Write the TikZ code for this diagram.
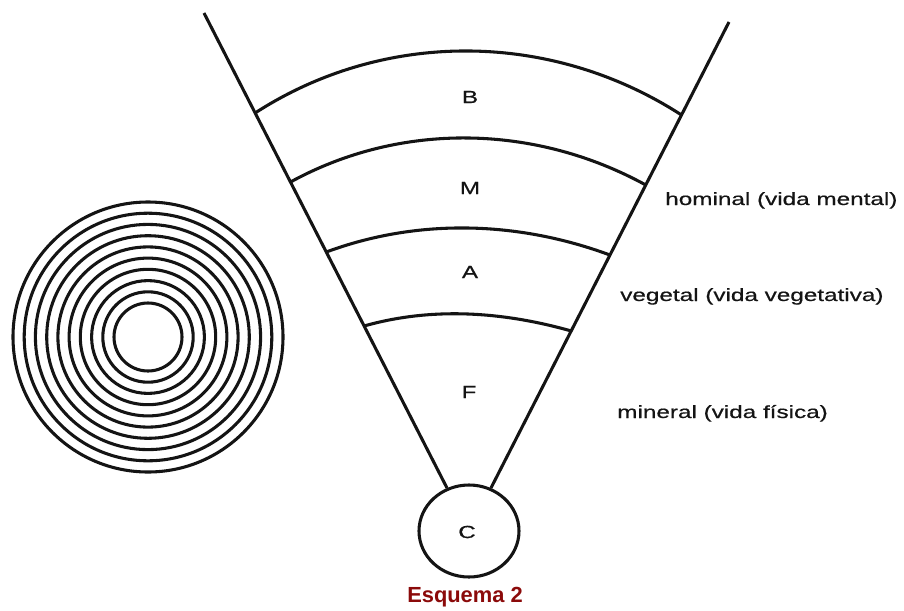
\documentclass[tikz,border=0pt]{standalone}
\usepackage{fontspec}
\setmainfont{Liberation Sans}
\newfontfamily\widefont[FakeStretch=1.38,FakeBold=0.6]{Liberation Sans}
\usetikzlibrary{calc,shapes.geometric}
\definecolor{capred}{RGB}{139,10,10}
\definecolor{ink}{RGB}{20,20,20}
\tikzset{
  stroke/.style={draw=ink, line width=2.3pt},
  letter/.style={font=\widefont\fontsize{13.2}{15}\selectfont, text=ink, inner sep=0pt},
  sidelabel/.style={font=\widefont\fontsize{13.2}{15}\selectfont, text=ink, inner sep=0pt, anchor=base west},
  caption/.style={font=\bfseries\fontsize{16.4}{18}\selectfont, text=capred, inner sep=0pt}
}
\begin{document}
\begin{tikzpicture}[x=0.75pt,y=-0.75pt]
\useasboundingbox (0,0) rectangle (904,611);
% concentric rings
\foreach \r in {34,45.2,56.4,67.7,78.9,90.1,101.3,112.6,123.8,135}
  \draw[stroke] (148,337) circle[radius=\r];
% cone
\coordinate (cc) at (469,531);
\node[stroke, ellipse, minimum width=75pt, minimum height=69pt, inner sep=0pt] (C) at (cc) {};
\node[letter] (Ct) at (467,532) {C};
\coordinate (tl) at (204,13);
\coordinate (tr) at (729,22);
\draw[stroke] (tl) -- (C);
\draw[stroke] (tr) -- (C);
\coordinate (bl) at ($(tl)!0.193!(cc)$);
\coordinate (br) at ($(tr)!0.1827!(cc)$);
\coordinate (ml) at ($(tl)!0.3263!(cc)$);
\coordinate (mr) at ($(tr)!0.3202!(cc)$);
\coordinate (al) at ($(tl)!0.4614!(cc)$);
\coordinate (ar) at ($(tr)!0.4578!(cc)$);
\coordinate (fl) at ($(tl)!0.6042!(cc)$);
\coordinate (fr) at ($(tr)!0.607!(cc)$);
\draw[stroke] (bl) .. controls +(129.9,-84) and +(-129.9,-84) .. (br);
\draw[stroke] (ml) .. controls +(110.6,-60.7) and +(-110.6,-60.7) .. (mr);
\draw[stroke] (al) .. controls +(91.9,-34) and +(-91.9,-34) .. (ar);
\draw[stroke] (fl) .. controls +(68.3,-19.3) and +(-68.3,-19.3) .. (fr);
% letters
\node[letter] (B) at (470,97) {B};
\node[letter] (M) at (470,188) {M};
\node[letter] (A) at (470,272) {A};
\node[letter] (F) at (469,392) {F};
% side labels
\node[sidelabel] (hom) at (665,205) {hominal (vida mental)};
\node[sidelabel] (veg) at (620,301) {vegetal (vida vegetativa)};
\node[sidelabel] (min) at (617,418) {mineral (vida física)};
% caption
\node[caption] (cap) at (465,597) {Esquema 2};
\end{tikzpicture}
\end{document}
